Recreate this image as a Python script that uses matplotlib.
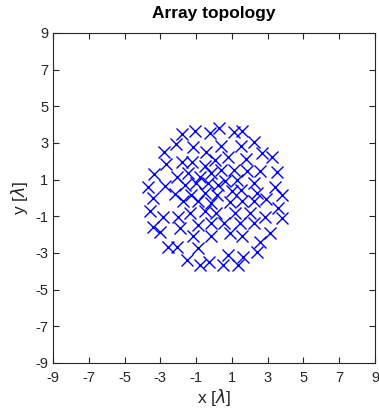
import numpy as np
import matplotlib
matplotlib.use("Agg")
import matplotlib.pyplot as plt

plt.rcParams['font.family'] = ['Liberation Sans', 'DejaVu Sans']
plt.rcParams['axes.unicode_minus'] = False

# element positions in wavelengths
x_pos = [0.28, -1.06, -1.79, -0.22, 1.12, 1.56,
         -2.12, -1.17, 0.39, 1.51, 2.24,
         -0.45, -2.80, 2.68, 3.24,
         -1.79, -1.23, -0.50, 0.06, 0.78, 1.79, -2.68,
         -3.35, -2.07, -1.45, -0.78, -0.17, 0.39, 1.12, 1.84, 2.57, 3.52,
         -3.69, -2.74, -1.62, -1.01, -0.34, 0.22, 1.29, 2.24, 3.41, 1.51,
         -3.41, -2.18, -1.29, -0.50, 0.17, 1.01, 2.40, 3.80,
         -1.73, -0.89, -0.17, 0.89, 1.56, 2.24, 2.91,
         -3.58, -1.34, -0.50, 0.11, 1.17, 2.01, 3.58, 2.85, 3.80,
         -2.85, -2.01, -0.89, -0.17, 0.56, 1.45, 2.24,
         -3.41, -3.02, -1.17, -0.17, 0.89, 1.56, 3.13, 2.57,
         -2.57, -2.07, -0.89, 2.40, 0.78, 1.62,
         -1.51, -0.78, -0.28, 0.50, 1.34, -1.90, 0.61]
y_pos = [3.82, 3.65, 3.49, 3.54, 3.60, 3.65,
         2.94, 2.78, 2.84, 2.84, 3.05,
         2.51, 2.51, 2.45, 2.24,
         1.96, 1.96, 1.74, 2.07, 2.24, 2.13, 1.85,
         1.31, 1.14, 1.36, 1.14, 1.36, 1.53, 1.53, 1.47, 1.47, 1.42,
         0.60, 0.65, 0.71, 0.82, 0.82, 0.71, 0.98, 0.82, 0.60, 0.43,
         0.00, 0.22, 0.16, 0.27, 0.16, 0.38, 0.27, 0.16,
         -0.17, -0.17, -0.27, -0.22, -0.17, -0.17, -0.06,
         -0.71, -0.82, -0.71, -0.82, -0.82, -0.82, -0.55, -1.04, -1.09,
         -1.04, -1.04, -1.47, -1.37, -1.37, -1.37, -1.37,
         -1.58, -1.86, -2.07, -2.07, -1.91, -2.07, -1.91, -2.40,
         -2.67, -2.67, -2.73, -2.95, -3.11, -3.22,
         -3.38, -3.66, -3.49, -3.66, -3.66, -1.64, 0.93]

ticks = np.arange(-9, 10, 2)
dark = '#262626'

fig = plt.figure(figsize=(3.79, 4.16), dpi=100)
ax = fig.add_axes([53 / 379, 53 / 416, 322 / 379, 330 / 416])

ax.plot(x_pos, y_pos, 'x', color='blue', markersize=8, markeredgewidth=1)

ax.set_xlim(-9, 9)
ax.set_ylim(-9, 9)
ax.set_xticks(ticks)
ax.set_yticks(ticks)
ax.tick_params(direction='in', top=True, right=True, length=4, width=0.8,
               labelsize=10.5, colors=dark, labelcolor=dark)
ax.tick_params(axis='x', pad=6)
for s in ax.spines.values():
    s.set_color(dark)
    s.set_linewidth(0.8)

ax.set_title('Array topology', fontsize=12.5, fontweight='bold', pad=11)
ax.set_xlabel(r'x [$\lambda$]', fontsize=12.5, color=dark, labelpad=1)
ax.set_ylabel(r'y [$\lambda$]', fontsize=12.5, color=dark, labelpad=4)

fig.savefig('out.png', dpi=100)
